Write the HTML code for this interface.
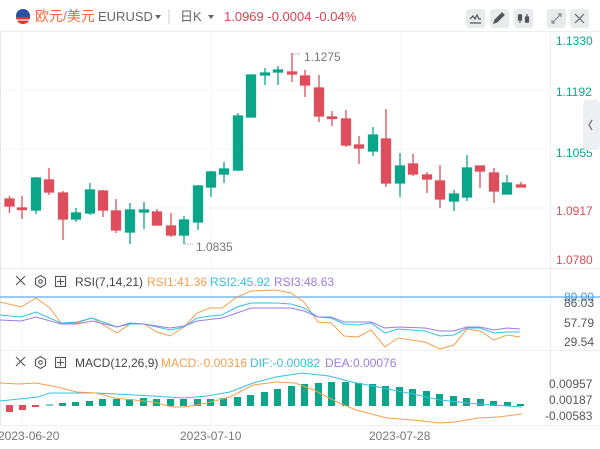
<!DOCTYPE html>
<html><head><meta charset="utf-8"><style>
body{margin:0;width:600px;height:444px;overflow:hidden;background:#fff;font-family:"Liberation Sans","Noto Sans CJK SC",sans-serif;}
svg text{font-family:"Liberation Sans","Noto Sans CJK SC",sans-serif;}
</style></head><body>
<svg width="600" height="444" viewBox="0 0 600 444" xmlns="http://www.w3.org/2000/svg">
<rect width="600" height="444" fill="#fff"/>
<line x1="0" y1="31.5" x2="600" y2="31.5" stroke="#eceef2"/>
<circle cx="23" cy="16" r="7" fill="#2d4fa8"/>
<path d="M16 17 A7 7 0 0 0 30 17 Z" fill="#d33"/>
<line x1="16" y1="20" x2="30" y2="20" stroke="#fff" stroke-width="1.2"/>
<text x="35" y="21" font-size="14" fill="#f26b3a">欧元/美元</text>
<text x="98" y="21" font-size="13" fill="#666">EURUSD</text>
<path d="M155 15 l6 0 l-3 4 z" fill="#666"/>
<line x1="169" y1="9" x2="169" y2="24" stroke="#ccc"/>
<text x="180" y="21" font-size="13" fill="#666">日K</text>
<path d="M208 15 l6 0 l-3 4 z" fill="#666"/>
<text x="224" y="21" font-size="13" fill="#e04050">1.0969  -0.0004  -0.04%</text>
<g fill="#e8eaee">
<rect x="466" y="9" width="19" height="19" rx="3"/><rect x="490" y="9" width="19" height="19" rx="3"/><rect x="514" y="9" width="19" height="19" rx="3"/><rect x="547" y="9" width="19" height="19" rx="3"/><rect x="570" y="9" width="19" height="19" rx="3"/>
</g>
<g stroke="#555" stroke-width="1.2" fill="none">
<path d="M470 19 l3 -3 l2 3 l2 -4 l2 4 l2 0 M470 23 h11"/>
<path d="M494 23 l1 -3 l7 -7 l2 2 l-7 7 z" fill="#555"/>
<path d="M520 14 v9 M527 14 v9"/><rect x="518.5" y="15" width="3" height="5" fill="#555"/><rect x="525.5" y="17" width="3" height="5" fill="#555"/>
<path d="M552 23 l9 -9 M558 14 h3 v3 M552 20 v3 h3" stroke="#888"/>
<path d="M575 14 l9 9 M584 14 l-9 9" stroke="#666"/>
</g>
<g stroke="#f3f4f6" stroke-width="1">
<line x1="22" y1="32" x2="22" y2="425"/><line x1="211" y1="32" x2="211" y2="425"/><line x1="401" y1="32" x2="401" y2="425"/>
<line x1="0" y1="90" x2="550" y2="90"/><line x1="0" y1="149" x2="550" y2="149"/><line x1="0" y1="208" x2="550" y2="208"/>
</g>
<line x1="550.5" y1="32" x2="550.5" y2="425" stroke="#eceef2"/>
<line x1="0" y1="268.5" x2="600" y2="268.5" stroke="#eceef2"/>
<line x1="0" y1="350.5" x2="600" y2="350.5" stroke="#eceef2"/>
<line x1="0" y1="425.5" x2="600" y2="425.5" stroke="#eceef2"/>
<line x1="0.5" y1="32" x2="0.5" y2="425" stroke="#e4e6ec"/>
<g font-size="12">
<text x="556" y="45" fill="#0ba68a">1.1330</text>
<text x="556" y="96" fill="#0ba68a">1.1192</text>
<text x="556" y="157" fill="#0ba68a">1.1055</text>
<text x="556" y="215" fill="#dd4d5b">1.0917</text>
<text x="556" y="264" fill="#dd4d5b">1.0780</text>
</g>
<rect x="583" y="100" width="17" height="50" rx="4" fill="#eeeff2"/>
<path d="M592 120 l-3 5 l3 5" stroke="#777" stroke-width="1.3" fill="none"/>
<g stroke-width="1.3">
<g stroke="#dd4d5b" fill="#dd4d5b">
<line x1="9.5" y1="196" x2="9.5" y2="213"/><rect x="5" y="199" width="9" height="7"/>
<line x1="22" y1="196" x2="22" y2="219"/><rect x="17.5" y="208" width="9" height="1.5"/>
<line x1="49" y1="168" x2="49" y2="195"/><rect x="44.5" y="180" width="9" height="12"/>
<line x1="63" y1="191" x2="63" y2="240"/><rect x="58.5" y="193" width="9" height="26"/>
<line x1="103" y1="190" x2="103" y2="217"/><rect x="98.5" y="191" width="9" height="19"/>
<line x1="116" y1="199" x2="116" y2="233"/><rect x="111.5" y="211" width="9" height="19"/>
<line x1="157" y1="209" x2="157" y2="226"/><rect x="152.5" y="212" width="9" height="13"/>
<line x1="171" y1="213" x2="171" y2="237"/><rect x="166.5" y="226" width="9" height="9"/>
<line x1="292" y1="53" x2="292" y2="82"/><rect x="287.5" y="72" width="9" height="2"/>
<line x1="305" y1="70" x2="305" y2="97"/><rect x="300.5" y="76" width="9" height="9"/>
<line x1="319" y1="75" x2="319" y2="122"/><rect x="314.5" y="88" width="9" height="28"/>
<line x1="332" y1="111" x2="332" y2="126"/><rect x="327.5" y="117" width="9" height="1.5"/>
<line x1="346" y1="110" x2="346" y2="147"/><rect x="341.5" y="119" width="9" height="26"/>
<line x1="359" y1="136" x2="359" y2="164"/><rect x="354.5" y="145" width="9" height="3"/>
<line x1="386" y1="109" x2="386" y2="187"/><rect x="381.5" y="139" width="9" height="44"/>
<line x1="413" y1="154" x2="413" y2="176"/><rect x="408.5" y="164" width="9" height="10"/>
<line x1="427" y1="172" x2="427" y2="193"/><rect x="422.5" y="175" width="9" height="4"/>
<line x1="440" y1="165" x2="440" y2="208"/><rect x="435.5" y="181" width="9" height="18"/>
<line x1="480" y1="166" x2="480" y2="188"/><rect x="475.5" y="166" width="9" height="5"/>
<line x1="494" y1="168" x2="494" y2="203"/><rect x="489.5" y="173" width="9" height="18"/>
<line x1="521" y1="182" x2="521" y2="187"/><rect x="516.5" y="185" width="9" height="2"/>
</g>
<g stroke="#0ba68a" fill="#0ba68a">
<line x1="36" y1="177" x2="36" y2="214"/><rect x="31.5" y="178" width="9" height="32"/>
<line x1="76" y1="208" x2="76" y2="222"/><rect x="71.5" y="213" width="9" height="6"/>
<line x1="90" y1="183" x2="90" y2="215"/><rect x="85.5" y="190" width="9" height="23"/>
<line x1="130" y1="203" x2="130" y2="244"/><rect x="125.5" y="210" width="9" height="22"/>
<line x1="144" y1="202" x2="144" y2="229"/><rect x="139.5" y="210" width="9" height="2"/>
<line x1="184" y1="216" x2="184" y2="244"/><rect x="179.5" y="220" width="9" height="15"/>
<line x1="198" y1="185" x2="198" y2="230"/><rect x="193.5" y="186" width="9" height="36"/>
<line x1="211" y1="171" x2="211" y2="197"/><rect x="206.5" y="172" width="9" height="15"/>
<line x1="224" y1="162" x2="224" y2="183"/><rect x="219.5" y="169" width="9" height="5"/>
<line x1="238" y1="113" x2="238" y2="171"/><rect x="233.5" y="116" width="9" height="54"/>
<line x1="251" y1="75" x2="251" y2="117"/><rect x="246.5" y="75" width="9" height="42"/>
<line x1="265" y1="68" x2="265" y2="85"/><rect x="260.5" y="73" width="9" height="2"/>
<line x1="278" y1="66" x2="278" y2="85"/><rect x="273.5" y="70" width="9" height="2"/>
<line x1="373" y1="127" x2="373" y2="156"/><rect x="368.5" y="135" width="9" height="16"/>
<line x1="400" y1="153" x2="400" y2="197"/><rect x="395.5" y="166" width="9" height="17"/>
<line x1="454" y1="190" x2="454" y2="211"/><rect x="449.5" y="194" width="9" height="7"/>
<line x1="467" y1="155" x2="467" y2="201"/><rect x="462.5" y="168" width="9" height="29"/>
<line x1="507" y1="175" x2="507" y2="194"/><rect x="502.5" y="183" width="9" height="11"/>
</g>
</g>
<line x1="293" y1="54" x2="300" y2="54" stroke="#888" stroke-dasharray="1,1.5"/>
<text x="304" y="61" font-size="12" fill="#777">1.1275</text>
<line x1="185" y1="244" x2="193" y2="244" stroke="#888" stroke-dasharray="1,1.5"/>
<text x="196" y="251" font-size="12" fill="#777">1.0835</text>
<g stroke="#555" stroke-width="1.1" fill="none">
<path d="M16 276 l9 9 M25 276 l-9 9"/>
<path d="M40.5 275.5 l5 3 v6 l-5 3 l-5 -3 v-6 z"/><circle cx="40.5" cy="281.5" r="1.8"/>
<rect x="55.5" y="276.5" width="10" height="10"/><path d="M60.5 278 v7 M57 281.5 h7"/>
</g>
<g font-size="12">
<text x="75" y="286" fill="#444">RSI(7,14,21)</text>
<text x="147" y="286" fill="#f5a04a">RSI1:41.36</text>
<text x="210" y="286" fill="#37c0e0">RSI2:45.92</text>
<text x="274" y="286" fill="#9a7ee0">RSI3:48.63</text>
</g>
<line x1="0" y1="297" x2="600" y2="297" stroke="#7ab8f0" stroke-width="1.5"/>
<g font-size="12" fill="#555">
<text x="564" y="301" fill="#4a9ae8">80.00</text>
<text x="564" y="307">86.03</text>
<text x="564" y="327">57.79</text>
<text x="564" y="346">29.54</text>
</g>
<g fill="none" stroke-width="1">
<polyline stroke="#f5a04a" points="0,302 21,307 36,298 50,308 61,323 77,323 92,318 117,333 130,324 144,324 157,332 170,336 184,327 197,313 210,308 222,308 237,297 251,291 276,290 291,293 304,302 318,322 331,323 344,336 358,337 371,330 385,347 398,338 411,340 425,342 440,349 454,345 467,329 480,331 494,340 507,335 520,337"/>
<polyline stroke="#37c0e0" points="0,315 21,317 36,312 61,323 77,322 92,318 117,327 130,324 144,324 170,330 184,327 197,318 210,316 222,315 237,307 251,303 276,303 291,304 304,308 318,317 331,318 344,324 358,325 371,323 385,333 398,329 425,331 440,336 454,335 467,328 480,328 494,333 507,332 520,332"/>
<polyline stroke="#9a7ee0" points="0,320 21,321 36,317 61,324 77,324 92,321 117,327 130,323 144,324 170,328 184,326 197,321 222,318 237,313 251,308 291,308 304,311 318,317 331,317 344,322 371,322 385,328 398,327 425,328 440,331 454,331 467,327 480,327 494,330 507,328 520,329"/>
</g>
<g stroke="#555" stroke-width="1.1" fill="none">
<path d="M16 357 l9 9 M25 357 l-9 9"/>
<path d="M40.5 356.5 l5 3 v6 l-5 3 l-5 -3 v-6 z"/><circle cx="40.5" cy="362.5" r="1.8"/>
<rect x="55.5" y="357.5" width="10" height="10"/><path d="M60.5 359 v7 M57 362.5 h7"/>
</g>
<g font-size="12">
<text x="75" y="367" fill="#444">MACD(12,26,9)</text>
<text x="161" y="367" fill="#f5a04a">MACD:-0.00316</text>
<text x="250" y="367" fill="#37c0e0">DIF:-0.00082</text>
<text x="325" y="367" fill="#9a7ee0">DEA:0.00076</text>
</g>
<g font-size="12" fill="#555">
<text x="549" y="388">0.00957</text>
<text x="549" y="404">0.00187</text>
<text x="545" y="420">-0.00583</text>
</g>
<g fill="#dd4d5b">
<rect x="6" y="405" width="7" height="7"/><rect x="19" y="405" width="7" height="5"/><rect x="32" y="405" width="7" height="2"/>
</g>
<g fill="#0ba68a">
<rect x="46" y="404.5" width="7" height="1"/>
<rect x="59" y="403" width="7" height="3"/><rect x="72" y="402" width="7" height="4"/><rect x="86" y="401" width="7" height="5"/>
<rect x="99" y="399" width="7" height="7"/><rect x="113" y="399" width="7" height="7"/><rect x="126" y="399" width="7" height="7"/>
<rect x="140" y="398" width="7" height="8"/><rect x="153" y="399" width="7" height="7"/><rect x="167" y="399" width="7" height="7"/>
<rect x="180" y="399" width="7" height="7"/><rect x="194" y="399" width="7" height="7"/><rect x="207" y="399" width="7" height="7"/>
<rect x="220" y="398" width="7" height="8"/><rect x="234" y="397" width="7" height="9"/><rect x="247" y="395" width="7" height="11"/>
<rect x="261" y="392" width="7" height="14"/><rect x="274" y="389" width="7" height="17"/><rect x="288" y="386" width="7" height="20"/>
<rect x="301" y="384" width="7" height="22"/><rect x="315" y="383" width="7" height="23"/><rect x="328" y="382" width="7" height="24"/>
<rect x="342" y="382" width="7" height="24"/><rect x="355" y="383" width="7" height="23"/><rect x="369" y="384" width="7" height="22"/>
<rect x="382" y="386" width="7" height="20"/><rect x="396" y="387" width="7" height="19"/><rect x="409" y="389" width="7" height="17"/>
<rect x="423" y="391" width="7" height="15"/><rect x="436" y="394" width="7" height="12"/><rect x="450" y="396" width="7" height="10"/>
<rect x="463" y="398" width="7" height="8"/><rect x="477" y="399" width="7" height="7"/><rect x="490" y="401" width="7" height="5"/>
<rect x="504" y="402" width="7" height="4"/><rect x="517" y="404" width="7" height="2"/>
</g>
<g fill="none" stroke-width="1">
<polyline stroke="#37c0e0" points="0,401 38,397 50,393 96,393 153,396 184,398 207,396 230,392 253,383 276,377 302,373 329,376 352,382 383,388 413,394 440,400 478,404 522,407"/>
<polyline stroke="#f5a04a" points="0,383 19,384 36,383 57,387 77,392 96,393 115,398 153,402 172,407 184,407 207,403 230,397 253,385 276,382 295,383 314,390 337,402 356,410 387,418 413,420 440,423 455,422 478,418 498,417 522,414"/>
</g>
<g font-size="12" fill="#777">
<text x="-2" y="440">2023-06-20</text>
<text x="180" y="440">2023-07-10</text>
<text x="369" y="440">2023-07-28</text>
</g>
</svg>
</body></html>
